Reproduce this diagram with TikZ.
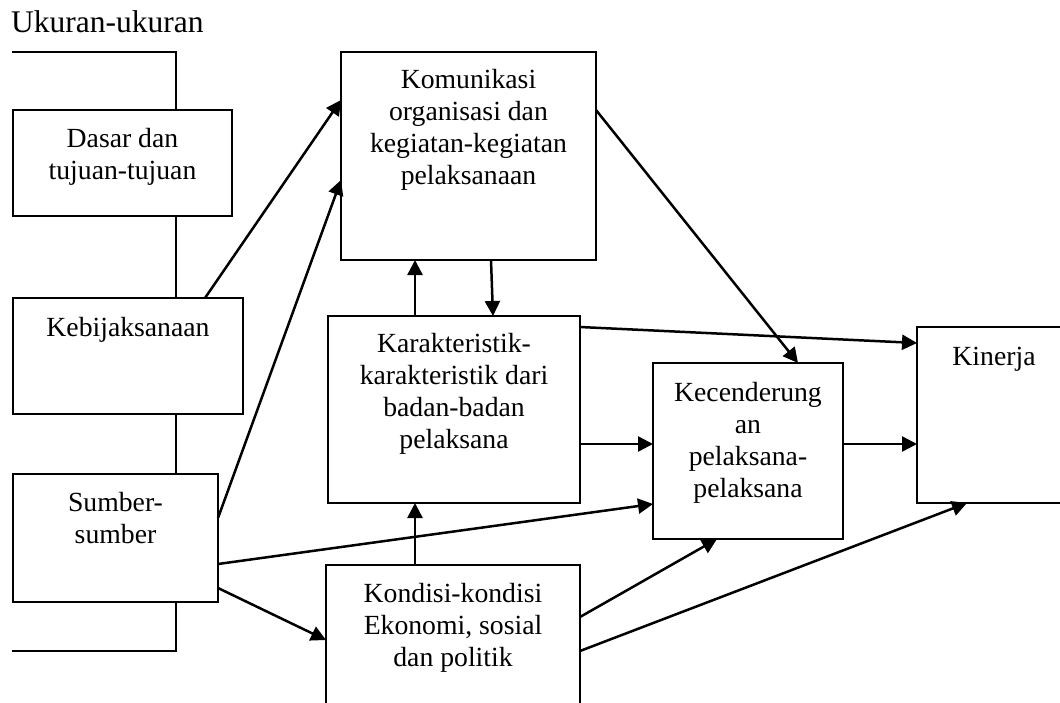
\documentclass[tikz,border=0pt]{standalone}
\usepackage{fontspec}
\setmainfont{Liberation Serif}
\usetikzlibrary{arrows.meta,calc}
\begin{document}
\begin{tikzpicture}[x=1pt,y=-1pt,
  box/.style={draw, rectangle, line width=2pt, inner sep=0pt, outer sep=0pt, anchor=north west},
  boxtext/.style={anchor=base, align=center, inner sep=0pt, font=\fontsize{27.7}{32}\selectfont},
  link/.style={line width=2.5pt, -{Triangle[length=15pt,width=15pt]}},
  frame/.style={line width=1.7pt}
]
\clip (0,0) rectangle (1060,702);
\fill[white] (0,0) rectangle (1060,702);

% heading
\node[anchor=base west, inner sep=0pt, font=\fontsize{31.5}{36}\selectfont] (title) at (11,32) {Ukuran-ukuran};

% boxes
\node[box, minimum width=219pt, minimum height=106pt] (dasar) at (13,110) {};
\node[box, minimum width=230pt, minimum height=116pt] (keb) at (13,298) {};
\node[box, minimum width=205pt, minimum height=128pt] (sum) at (13,474) {};
\node[box, minimum width=255pt, minimum height=208pt] (kom) at (341,52) {};
\node[box, minimum width=252pt, minimum height=187pt] (kar) at (328,316) {};
\node[box, minimum width=254pt, minimum height=200pt] (kon) at (326,565) {};
\node[box, minimum width=190pt, minimum height=176pt] (kec) at (653,363) {};
\node[box, minimum width=154pt, minimum height=176pt] (kin) at (917,327) {};

% box texts (anchored at the baseline of the last line)
\node[boxtext] (dasar-t) at ($(dasar.north)+(0,37+32)$) {Dasar dan\\tujuan-tujuan};
\node[boxtext] (keb-t) at ($(keb.north)+(0,38)$) {Kebijaksanaan};
\node[boxtext] (sum-t) at ($(sum.north)+(0,37+32)$) {Sumber-\\sumber};
\node[boxtext] (kom-t) at ($(kom.north)+(0,36+96)$) {Komunikasi\\organisasi dan\\kegiatan-kegiatan\\pelaksanaan};
\node[boxtext] (kar-t) at ($(kar.north)+(0,36+96)$) {Karakteristik-\\karakteristik dari\\badan-badan\\pelaksana};
\node[boxtext] (kon-t) at ($(kon.north)+(0,37+64)$) {Kondisi-kondisi\\Ekonomi, sosial\\dan politik};
\node[boxtext] (kec-t) at ($(kec.north)+(0,35+99)$) {Kecenderung\\an\\pelaksana-\\pelaksana};
\node[boxtext] (kin-t) at ($(kin.north west)+(77,38)$) {Kinerja};

% bracket joining the measures on the left
\coordinate (spine) at (176,0);
\coordinate (ftop) at (12,52);
\coordinate (fbot) at (12,651);
\draw[frame] (ftop) -| (spine |- dasar.north);
\draw[frame] (spine |- dasar.south) -- (spine |- keb.north);
\draw[frame] (spine |- keb.south) -- (spine |- sum.north);
\draw[frame] (spine |- sum.south) |- (fbot);

% connectors
\draw[link] ($(keb.north west)+(192,0)$) -- ($(kom.north west)+(0,48)$);
\draw[link] ($(sum.north east)+(0,44)$) -- ($(kom.north west)+(0,128)$);
\draw[link] ($(kar.north west)+(87,0)$) -- ($(kom.south west)+(74,0)$);
\draw[link] ($(kom.south west)+(150,0)$) -- ($(kar.north west)+(165,0)$);
\draw[link] ($(kom.north east)+(0,58)$) -- ($(kec.north west)+(145,0)$);
\draw[link] ($(kar.north east)+(0,11)$) -- ($(kin.north west)+(0,16)$);
\draw[link] ($(kar.north east)+(0,128)$) -- ($(kec.north west)+(0,81)$);
\draw[link] ($(sum.north east)+(0,90)$) -- ($(kec.north west)+(0,141)$);
\draw[link] ($(sum.north east)+(0,114)$) -- ($(kon.north west)+(0,75)$);
\draw[link] ($(kon.north west)+(89,0)$) -- ($(kar.south west)+(87,0)$);
\draw[link] ($(kon.north east)+(0,52)$) -- ($(kec.south west)+(64,0)$);
\draw[link] ($(kon.north east)+(0,86)$) -- ($(kin.south west)+(50,0)$);
\draw[link] ($(kec.north east)+(0,81)$) -- ($(kin.north west)+(0,117)$);
\end{tikzpicture}
\end{document}
